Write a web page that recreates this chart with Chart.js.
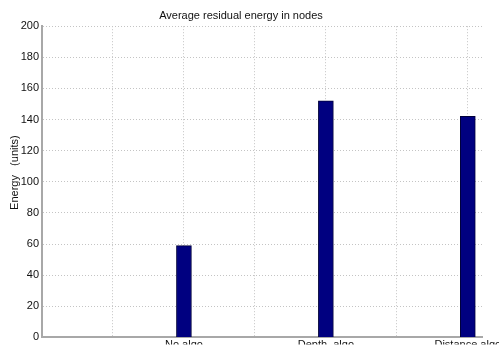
<!DOCTYPE html>
<html>
<head>
<meta charset="utf-8">
<script src="https://cdn.jsdelivr.net/npm/chart.js@4.4.0/dist/chart.umd.min.js"></script>
<style>
  html, body { margin: 0; padding: 0; background: #fff; overflow: hidden; }
  canvas { display: block; }
</style>
</head>
<body>
<canvas id="grafico_energia" width="499" height="347"></canvas>
<script>
// bar positions on the numeric x axis and their names
const categorias = ['No algo', 'Depth  algo', 'Distance algo'];
const posiciones = [2, 4, 6];
const energia = [59, 152, 142];

const fuente = "'Liberation Sans', Arial, sans-serif";
const colorGrid = '#c4c4c4';
const colorEje = '#a8a8a8';

function etiquetaX(valor) {
    let i = posiciones.indexOf(valor);
    return i >= 0 ? categorias[i] : '';
}

let ctx = document.getElementById('grafico_energia').getContext('2d');

new Chart(ctx, {
    type: 'bar',
    data: {
        datasets: [{
            label: 'Energy',
            data: posiciones.map((x, i) => ({ x: x, y: energia[i] })),
            backgroundColor: '#000080',
            borderColor: '#00003a',
            borderWidth: 1,
            barThickness: 15
        }]
    },
    options: {
        responsive: false,
        devicePixelRatio: 1,
        animation: false,
        layout: { padding: { left: 0, right: 17, top: 0, bottom: 0 } },
        plugins: {
            legend: { display: false },
            tooltip: { enabled: false },
            title: {
                display: true,
                text: 'Average residual energy in nodes',
                color: '#111',
                font: { family: fuente, size: 11, weight: 'normal' },
                padding: { top: 9, bottom: 4 }
            }
        },
        scales: {
            x: {
                type: 'linear',
                min: 0,
                max: 6.2,
                offset: false,
                // labels hang below the canvas edge, so keep the axis box tight
                afterFit: function (scale) {
                    scale.height = 7;
                    scale.paddingLeft = 0;
                    scale.paddingRight = 0;
                },
                ticks: {
                    stepSize: 1,
                    includeBounds: false,
                    autoSkip: false,
                    maxRotation: 0,
                    padding: 1,
                    color: '#111',
                    font: { family: fuente, size: 11 },
                    callback: function (valor) { return etiquetaX(valor); }
                },
                grid: { color: colorGrid, lineWidth: 1, drawTicks: false, offset: false },
                border: { display: true, color: colorEje, width: 2, dash: [1, 2] }
            },
            y: {
                min: 0,
                max: 200,
                afterFit: function (scale) {
                    scale.width = 42;
                },
                ticks: {
                    stepSize: 20,
                    padding: 3,
                    color: '#111',
                    font: { family: fuente, size: 11 }
                },
                grid: { color: colorGrid, lineWidth: 1, drawTicks: false },
                border: { display: true, color: colorEje, width: 2, dash: [1, 2] },
                title: {
                    display: true,
                    text: '      Energy   (units)',
                    color: '#111',
                    font: { family: fuente, size: 11 },
                    padding: { top: 8, bottom: 0 }
                }
            }
        }
    }
});
</script>
</body>
</html>
